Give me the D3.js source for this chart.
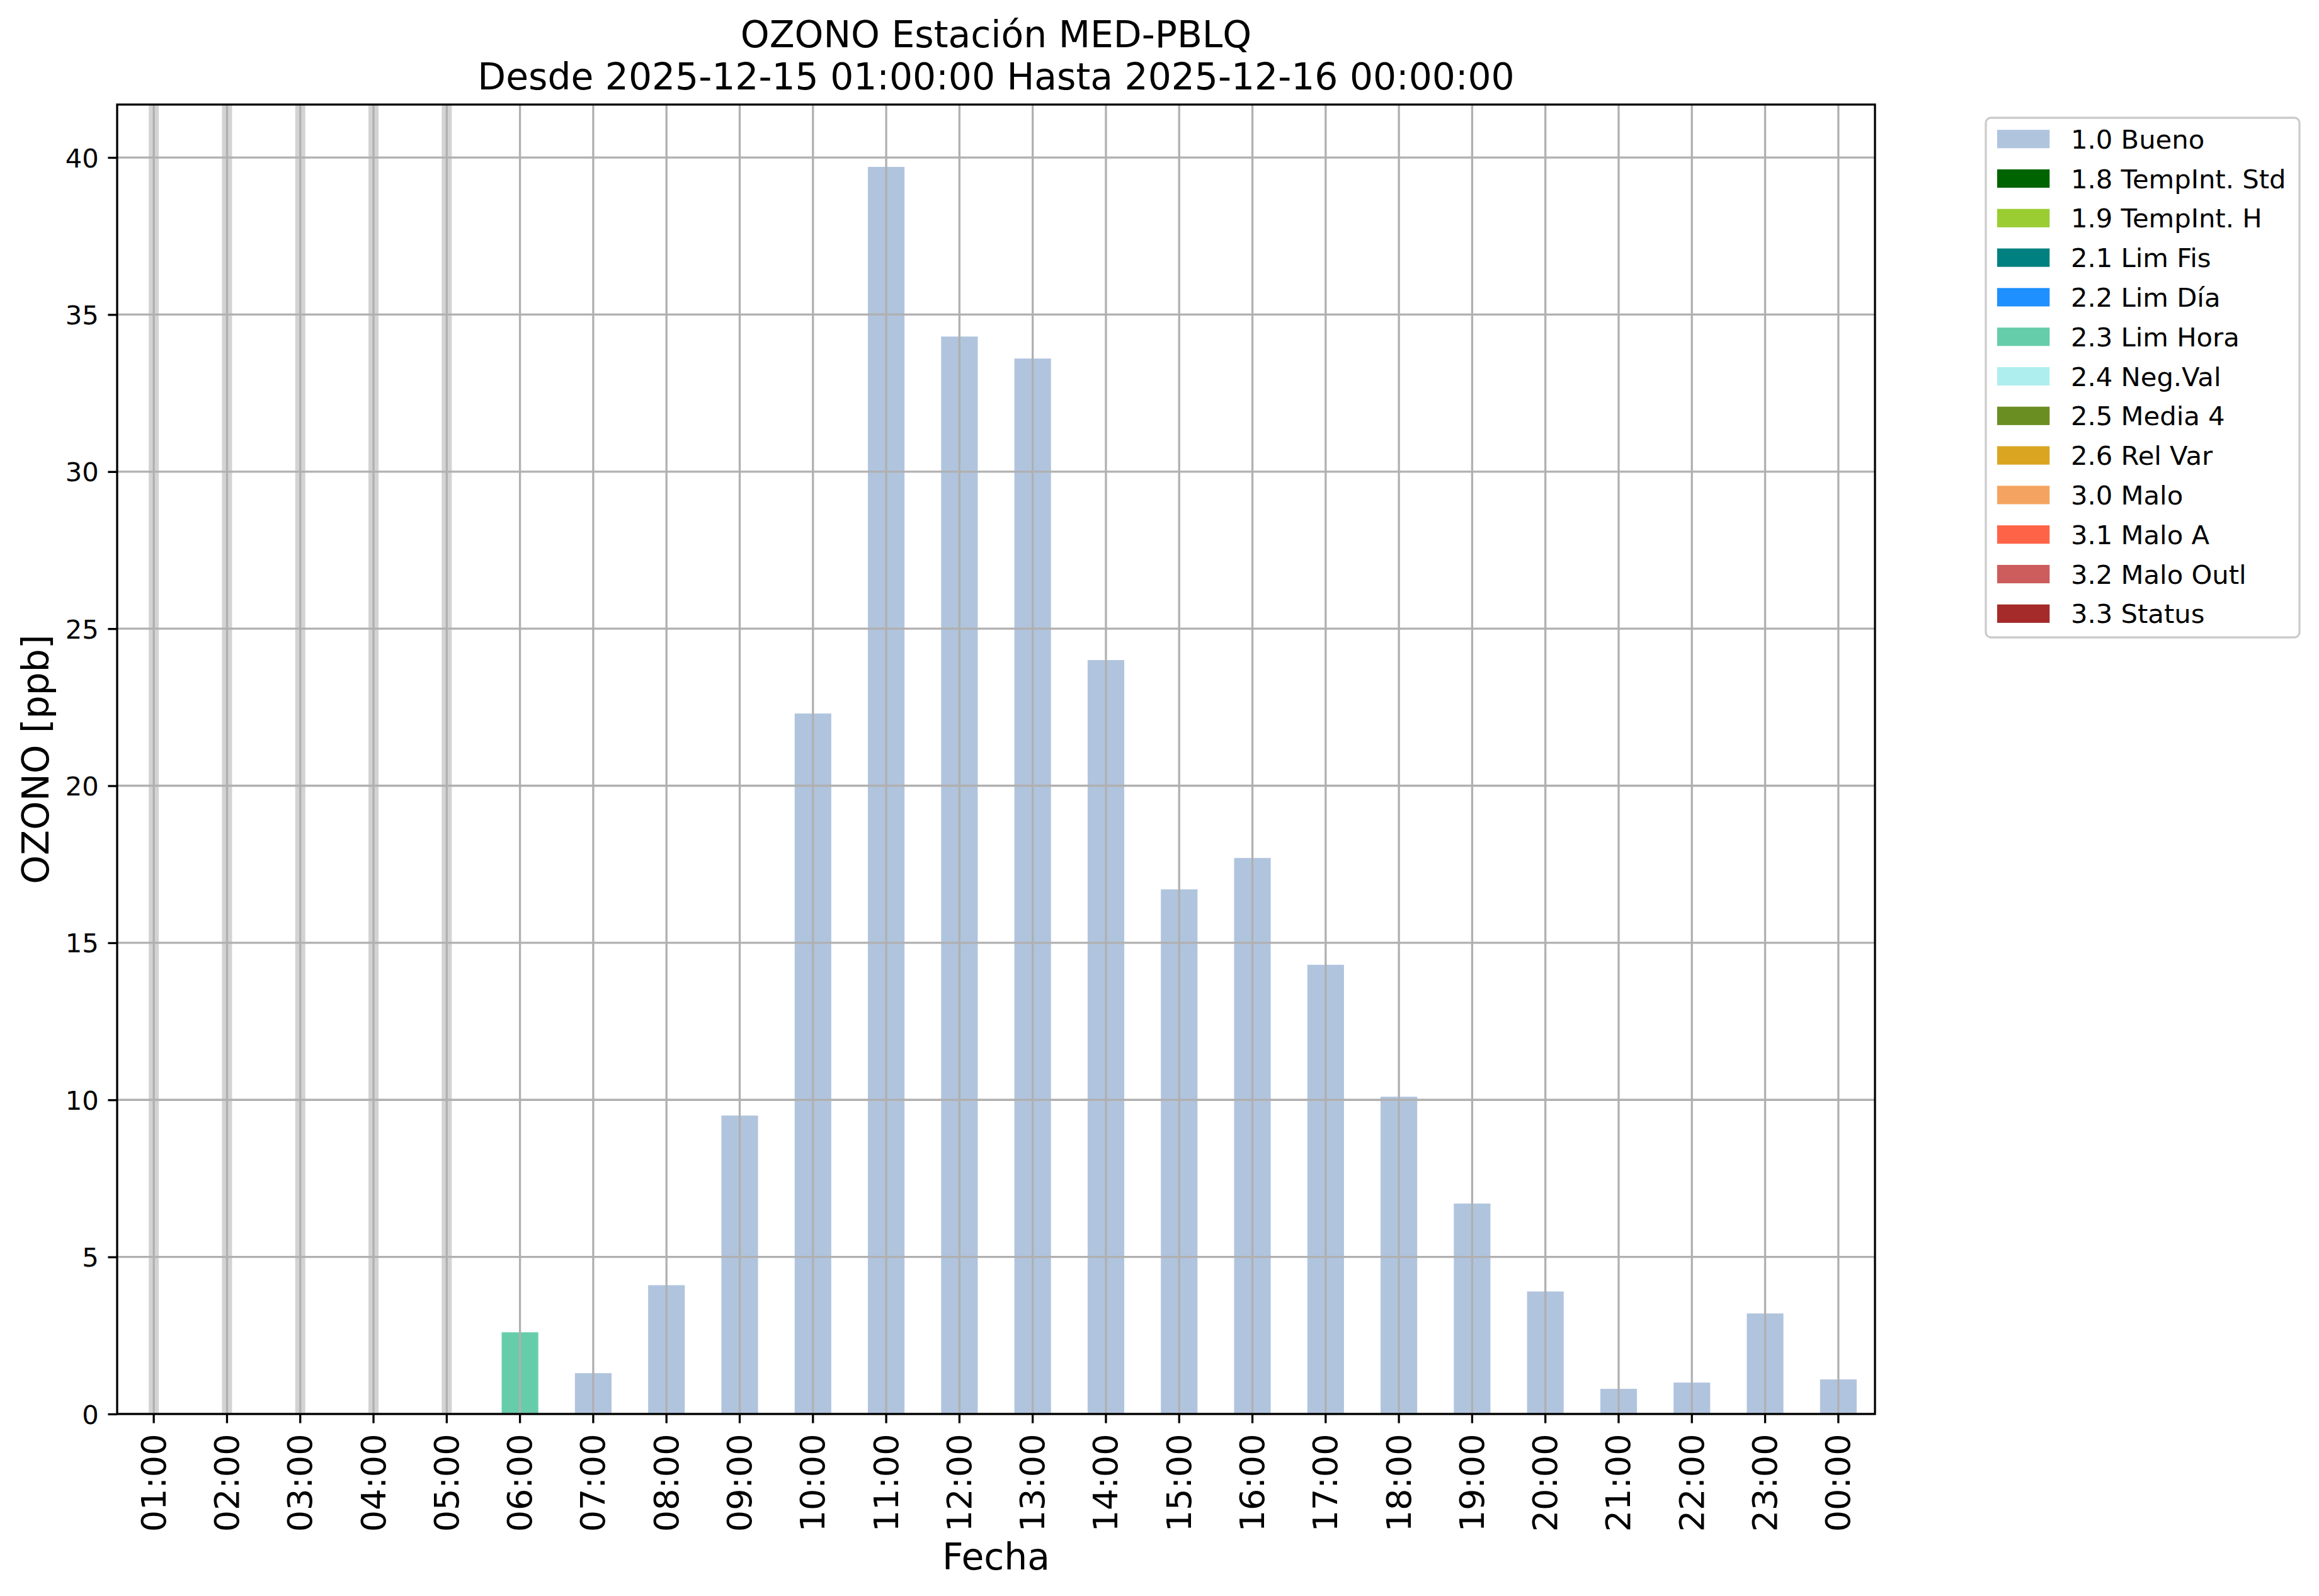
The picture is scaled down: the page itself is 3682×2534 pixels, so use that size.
<!DOCTYPE html>
<html>
<head>
<meta charset="utf-8">
<script src="https://cdn.jsdelivr.net/npm/d3@7"></script>
<style>
  html, body { margin: 0; padding: 0; background: #ffffff; }
  svg { display: block; font-family: "DejaVu Sans", sans-serif; }
</style>
</head>
<body>
<svg id="chart" width="3682" height="2534"></svg>
<script>
// ---------- data ----------
const hours = ["01:00","02:00","03:00","04:00","05:00","06:00","07:00","08:00","09:00","10:00","11:00","12:00",
               "13:00","14:00","15:00","16:00","17:00","18:00","19:00","20:00","21:00","22:00","23:00","00:00"];
const ozone = [null, null, null, null, null, 2.6, 1.3, 4.1, 9.5, 22.3, 39.7, 34.3,
               33.6, 24.0, 16.7, 17.7, 14.3, 10.1, 6.7, 3.9, 0.8, 1.0, 3.2, 1.1];
const flags = [null, null, null, null, null, "2.3", "1.0", "1.0", "1.0", "1.0", "1.0", "1.0",
               "1.0", "1.0", "1.0", "1.0", "1.0", "1.0", "1.0", "1.0", "1.0", "1.0", "1.0", "1.0"];
const legendCodes  = ["1.0","1.8","1.9","2.1","2.2","2.3","2.4","2.5","2.6","3.0","3.1","3.2","3.3"];
const legendLabels = ["1.0 Bueno","1.8 TempInt. Std","1.9 TempInt. H","2.1 Lim Fis","2.2 Lim Día","2.3 Lim Hora",
                      "2.4 Neg.Val","2.5 Media 4","2.6 Rel Var","3.0 Malo","3.1 Malo A","3.2 Malo Outl","3.3 Status"];
const legendColors = ["#b0c4de","#006400","#9acd32","#008080","#1e90ff","#66cdaa",
                      "#afeeee","#6b8e23","#daa520","#f4a460","#ff6347","#cd5c5c","#a52a2a"];
const yTicks = [0, 5, 10, 15, 20, 25, 30, 35, 40];
const titleLines = ["OZONO Estación MED-PBLQ", "Desde 2025-12-15 01:00:00 Hasta 2025-12-16 00:00:00"];
const xLabel = "Fecha";
const yLabel = "OZONO [ppb]";

// ---------- layout ----------
const X0 = 186, X1 = 2977, Y0 = 166, Y1 = 2245;
const TICK = 14.6, PAD = 14.6;
const LW = 3.3;
const svg = d3.select("#chart");
svg.append("rect").attr("width", 3682).attr("height", 2534).attr("fill", "#ffffff");

const colorOf = d3.scaleOrdinal().domain(legendCodes).range(legendColors);
const x = d3.scaleBand().domain(hours).range([X0, X1]).paddingInner(0).paddingOuter(0);
const yMax = d3.max(ozone) * 1.05;
const y = d3.scaleLinear().domain([0, yMax]).range([Y1, Y0]);
const bw = x.bandwidth();

const data = hours.map((h, i) => ({h, v: ozone[i], f: flags[i]}));

// missing-data bands
svg.append("g").selectAll("line").data(data.filter(d => d.v === null)).join("line")
  .attr("x1", d => x(d.h) + bw / 2).attr("x2", d => x(d.h) + bw / 2)
  .attr("y1", Y0).attr("y2", Y1)
  .attr("stroke", "#d3d3d3").attr("stroke-width", 16);

// bars
svg.append("g").selectAll("rect").data(data.filter(d => d.v !== null)).join("rect")
  .attr("x", d => x(d.h) + bw * 0.25)
  .attr("width", bw * 0.5)
  .attr("y", d => y(d.v))
  .attr("height", d => y(0) - y(d.v))
  .attr("fill", d => colorOf(d.f));

// grid
const grid = svg.append("g").attr("stroke", "#b0b0b0").attr("stroke-width", LW);
grid.selectAll(".gx").data(hours).join("line")
  .attr("x1", d => x(d) + bw / 2).attr("x2", d => x(d) + bw / 2)
  .attr("y1", Y0).attr("y2", Y1);
grid.selectAll(".gy").data(yTicks).join("line")
  .attr("x1", X0).attr("x2", X1)
  .attr("y1", d => y(d)).attr("y2", d => y(d));

// axes
const yAxis = d3.axisLeft(y).tickValues(yTicks).tickSize(TICK).tickPadding(PAD).tickFormat(d3.format("d"));
const gy = svg.append("g").attr("transform", `translate(${X0},0)`).call(yAxis);
gy.select(".domain").remove();
gy.selectAll(".tick line").attr("stroke", "#000").attr("stroke-width", LW);
gy.selectAll(".tick text").attr("font-size", 41.7).attr("fill", "#000")
  .attr("font-family", "DejaVu Sans").attr("dy", "0.36em");

const xAxis = d3.axisBottom(x).tickSize(TICK).tickPadding(PAD);
const gx = svg.append("g").attr("transform", `translate(0,${Y1})`).call(xAxis);
gx.select(".domain").remove();
gx.selectAll(".tick line").attr("stroke", "#000").attr("stroke-width", LW);
gx.selectAll(".tick text")
  .attr("font-size", 54.2).attr("fill", "#000").attr("font-family", "DejaVu Sans")
  .attr("text-anchor", "end")
  .attr("y", 0).attr("dy", 0)
  .attr("transform", `translate(0,${TICK + PAD + 2}) rotate(-90)`)
  .attr("dominant-baseline", "central");

// frame
svg.append("rect").attr("x", X0).attr("y", Y0).attr("width", X1 - X0).attr("height", Y1 - Y0)
  .attr("fill", "none").attr("stroke", "#000").attr("stroke-width", LW);

// title
const cx = (X0 + X1) / 2;
svg.append("text").attr("x", cx).attr("y", 75).attr("text-anchor", "middle")
  .attr("font-size", 58.3).text(titleLines[0]);
svg.append("text").attr("x", cx).attr("y", 142).attr("text-anchor", "middle")
  .attr("font-size", 58.3).text(titleLines[1]);

// axis labels
svg.append("text").attr("x", cx).attr("y", 2492).attr("text-anchor", "middle")
  .attr("font-size", 58.3).text(xLabel);
svg.append("text").attr("transform", `translate(77,${(Y0 + Y1) / 2}) rotate(-90)`)
  .attr("text-anchor", "middle").attr("font-size", 58.3).text(yLabel);

// legend
const LX = 3153, LY = 187, LR = 3651, LB = 1012;
const lg = svg.append("g");
lg.append("rect").attr("x", LX).attr("y", LY).attr("width", LR - LX).attr("height", LB - LY)
  .attr("rx", 8).attr("fill", "#ffffff").attr("fill-opacity", 0.8)
  .attr("stroke", "#cccccc").attr("stroke-width", LW);
const items = lg.selectAll(".item").data(legendLabels).join("g")
  .attr("transform", (d, i) => `translate(0,${220.7 + i * 62.8})`);
items.append("rect").attr("x", 3171).attr("y", -14.6).attr("width", 83.3).attr("height", 29.2)
  .attr("fill", (d, i) => legendColors[i]);
items.append("text").attr("x", 3288).attr("y", 0).attr("dy", "0.36em")
  .attr("font-size", 41.7).text(d => d);
</script>
</body>
</html>
